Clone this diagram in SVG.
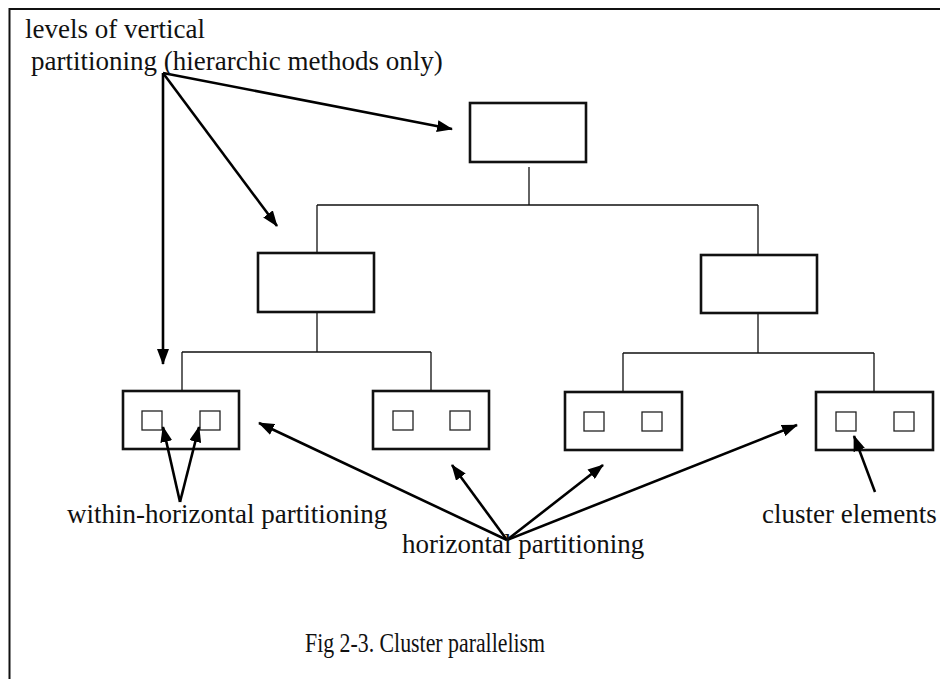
<svg xmlns="http://www.w3.org/2000/svg" width="940" height="679" viewBox="0 0 940 679">
<defs>
<style>
.frame{fill:none;stroke:#111;stroke-width:2}
.box{fill:none;stroke:#111;stroke-width:2.6}
.sq{fill:none;stroke:#222;stroke-width:1.3}
.tree{fill:none;stroke:#111;stroke-width:1.3}
.arr{fill:none;stroke:#000;stroke-width:2.6;marker-end:url(#ah)}
.lbl{font-family:"Liberation Serif","Times New Roman",serif;font-size:27px;fill:#111}
</style>
<marker id="ah" viewBox="0 0 16 12" refX="15" refY="6" markerWidth="16" markerHeight="12" markerUnits="userSpaceOnUse" orient="auto">
<path d="M0,0 L16,6 L0,12 z" fill="#000"/>
</marker>
</defs>
<rect width="940" height="679" fill="#fff"/>
<path class="frame" d="M9.5,679 L9.5,9 L940,9"/>

<g id="node-root"><rect class="box" x="470" y="103" width="116" height="59"/></g>
<g id="node-mid-left"><rect class="box" x="258" y="253" width="116" height="59"/></g>
<g id="node-mid-right"><rect class="box" x="701" y="255" width="116" height="58"/></g>
<g id="node-leaf-1"><rect class="box" x="123" y="391" width="116" height="58"/>
<rect class="sq" x="142" y="411" width="20" height="19"/><rect class="sq" x="200" y="411" width="20" height="19"/></g>
<g id="node-leaf-2"><rect class="box" x="373" y="391" width="116" height="58"/>
<rect class="sq" x="393" y="411" width="20" height="19"/><rect class="sq" x="450" y="411" width="20" height="19"/></g>
<g id="node-leaf-3"><rect class="box" x="565" y="392" width="117" height="58"/>
<rect class="sq" x="584" y="412" width="20" height="19"/><rect class="sq" x="642" y="412" width="20" height="19"/></g>
<g id="node-leaf-4"><rect class="box" x="816" y="392" width="117" height="58"/>
<rect class="sq" x="836" y="412" width="20" height="19"/><rect class="sq" x="894" y="412" width="20" height="19"/></g>

<g id="connectors">
<g id="tree">
<path class="tree" d="M529,167 V205 M317,205 H758 M317,205 V253 M758,205 V255"/>
<path class="tree" d="M317,312 V352 M182,352 H431 M182,352 V391 M431,352 V391"/>
<path class="tree" d="M758,313 V353 M623,353 H874 M623,353 V392 M874,353 V392"/>
</g>
<g id="arrows">
<line class="arr" x1="163" y1="73" x2="452" y2="129"/>
<line class="arr" x1="163" y1="73" x2="277" y2="226"/>
<line class="arr" x1="163" y1="73" x2="163" y2="364"/>
<line class="arr" x1="180" y1="502" x2="163" y2="427"/>
<line class="arr" x1="180" y1="502" x2="199" y2="427"/>
<line class="arr" x1="507" y1="540" x2="259" y2="423"/>
<line class="arr" x1="507" y1="540" x2="452" y2="465"/>
<line class="arr" x1="507" y1="540" x2="603" y2="465"/>
<line class="arr" x1="507" y1="540" x2="797" y2="425"/>
<line class="arr" x1="875" y1="492" x2="854" y2="436"/>
</g>
</g>

<g id="labels">
<text class="lbl" x="25" y="38">levels of vertical</text>
<text class="lbl" x="31" y="70">partitioning (hierarchic methods only)</text>
<text class="lbl" x="67" y="523">within-horizontal partitioning</text>
<text class="lbl" x="402" y="553">horizontal partitioning</text>
<text class="lbl" x="762" y="523">cluster elements</text>
<text class="lbl" x="305" y="652" textLength="240" lengthAdjust="spacingAndGlyphs">Fig 2-3. Cluster parallelism</text>
</g>
</svg>
